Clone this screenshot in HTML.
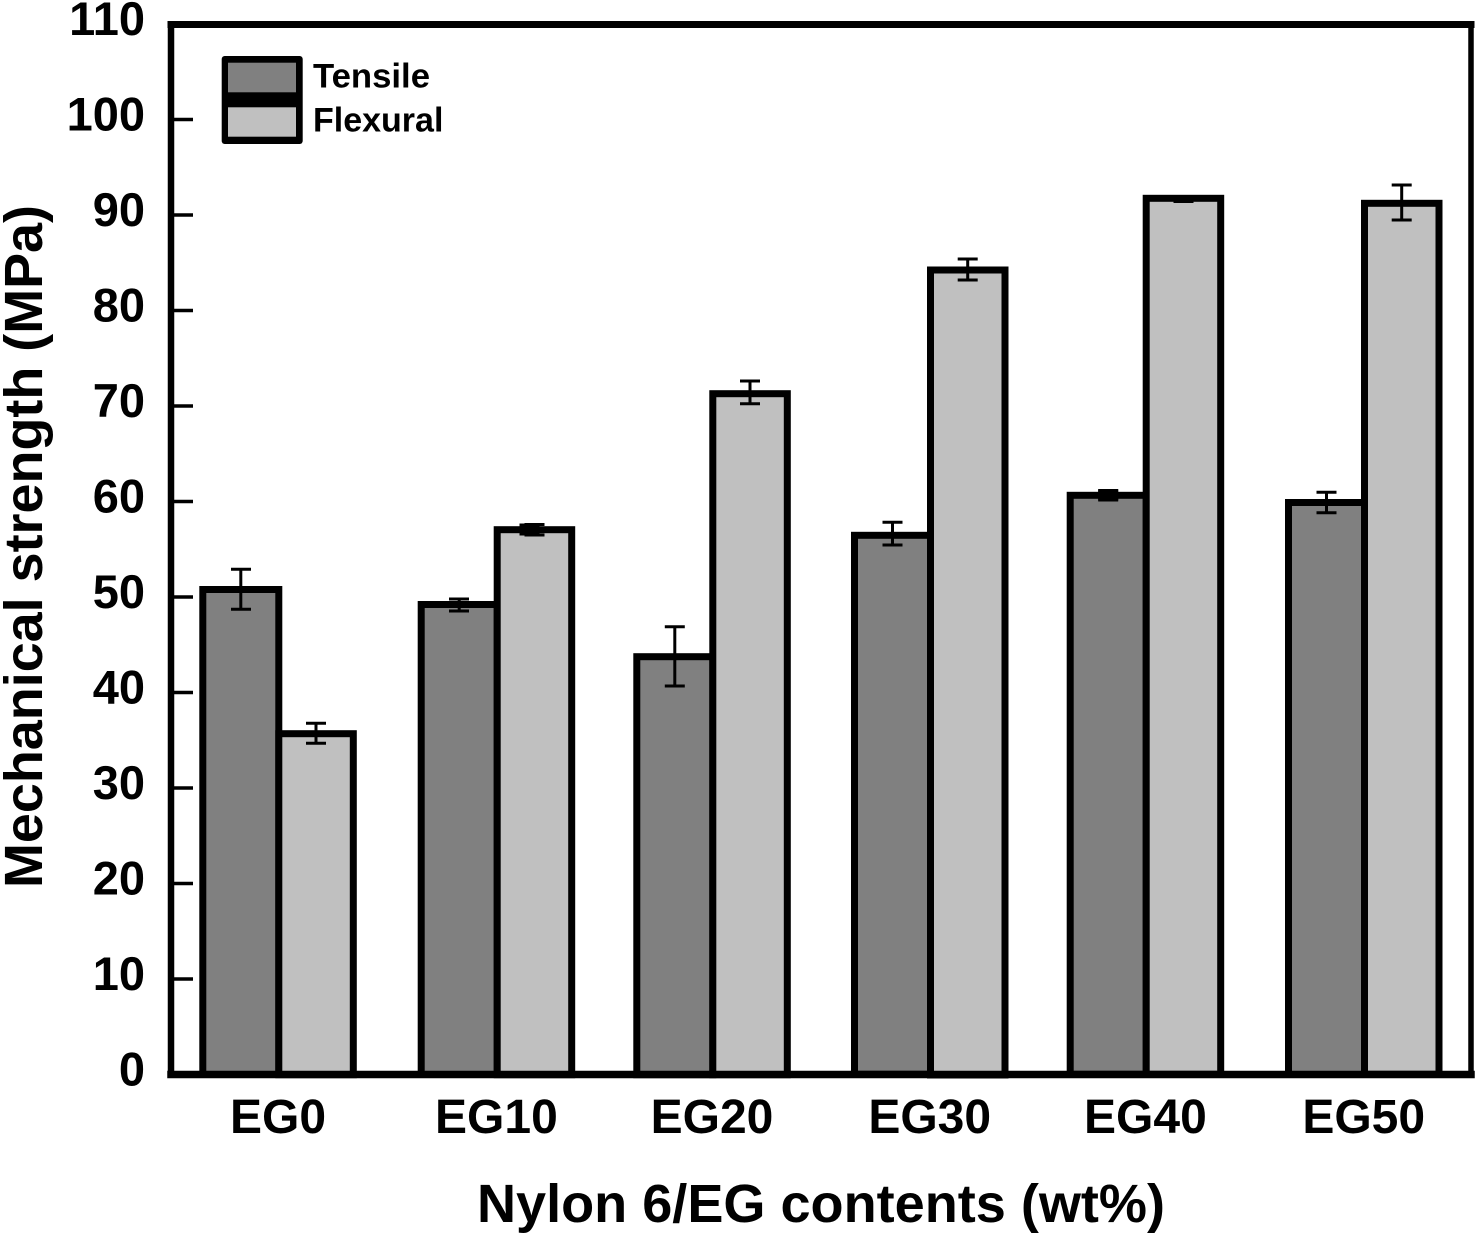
<!DOCTYPE html>
<html>
<head>
<meta charset="utf-8">
<style>
  html,body{margin:0;padding:0;background:#fff;}
  svg{display:block;}
  text{font-family:"Liberation Sans","DejaVu Sans",sans-serif;font-weight:bold;fill:#000;}
</style>
</head>
<body>
<svg width="1476" height="1233" viewBox="0 0 1476 1233" xmlns="http://www.w3.org/2000/svg">
  <rect x="0" y="0" width="1476" height="1233" fill="#fff"/>

  <!-- Bars -->
  <g stroke="#000" stroke-width="7" stroke-linejoin="miter">
    <rect x="202.8" y="589.5" width="76" height="485" fill="#808080"/>
    <rect x="278.8" y="733.7" width="74.5" height="341" fill="#c0c0c0"/>
    <rect x="421.2" y="604.5" width="76" height="470" fill="#808080"/>
    <rect x="497.2" y="529.7" width="74.5" height="545" fill="#c0c0c0"/>
    <rect x="636.8" y="656.7" width="76" height="418" fill="#808080"/>
    <rect x="712.8" y="393.7" width="74.5" height="681" fill="#c0c0c0"/>
    <rect x="854.5" y="535.3" width="76" height="539" fill="#808080"/>
    <rect x="930.5" y="270" width="74.5" height="805" fill="#c0c0c0"/>
    <rect x="1070.2" y="495.3" width="76" height="579" fill="#808080"/>
    <rect x="1146.2" y="198.3" width="74.5" height="876" fill="#c0c0c0"/>
    <rect x="1288.5" y="502.5" width="76" height="572" fill="#808080"/>
    <rect x="1364.5" y="203.3" width="74.5" height="871" fill="#c0c0c0"/>
  </g>

  <!-- Error bars -->
  <g stroke="#000" stroke-width="3" fill="none">
    <line x1="240.8" y1="569.3" x2="240.8" y2="609.3"/>
    <line x1="231" y1="569.3" x2="251" y2="569.3"/>
    <line x1="231" y1="609.3" x2="251" y2="609.3"/>
    <line x1="316" y1="723.3" x2="316" y2="743.3"/>
    <line x1="306" y1="723.3" x2="326" y2="723.3"/>
    <line x1="306" y1="743.3" x2="326" y2="743.3"/>
    <line x1="459.2" y1="598.3" x2="459.2" y2="611.7"/>
    <line x1="449" y1="599" x2="469" y2="599"/>
    <line x1="449" y1="611" x2="469" y2="611"/>
    <line x1="534.5" y1="523.3" x2="534.5" y2="536"/>
    <line x1="524.5" y1="524.5" x2="544.5" y2="524.5"/>
    <line x1="524.5" y1="535" x2="544.5" y2="535"/>
    <line x1="674.8" y1="626.7" x2="674.8" y2="686"/>
    <line x1="664.8" y1="626.7" x2="684.8" y2="626.7"/>
    <line x1="664.8" y1="686" x2="684.8" y2="686"/>
    <line x1="750" y1="381" x2="750" y2="403.7"/>
    <line x1="740" y1="381" x2="760" y2="381"/>
    <line x1="740" y1="403.7" x2="760" y2="403.7"/>
    <line x1="892.5" y1="522.3" x2="892.5" y2="545"/>
    <line x1="882.5" y1="522.3" x2="902.5" y2="522.3"/>
    <line x1="882.5" y1="545" x2="902.5" y2="545"/>
    <line x1="967.7" y1="259" x2="967.7" y2="280"/>
    <line x1="957.7" y1="259" x2="977.7" y2="259"/>
    <line x1="957.7" y1="280" x2="977.7" y2="280"/>
    <line x1="1108.2" y1="489" x2="1108.2" y2="501"/>
    <line x1="1098.2" y1="490.5" x2="1118.2" y2="490.5"/>
    <line x1="1098.2" y1="500" x2="1118.2" y2="500"/>
    <line x1="1173.5" y1="201.5" x2="1193.5" y2="201.5"/>
    <line x1="1326.5" y1="492.3" x2="1326.5" y2="512.7"/>
    <line x1="1316.5" y1="492.3" x2="1336.5" y2="492.3"/>
    <line x1="1316.5" y1="512.7" x2="1336.5" y2="512.7"/>
    <line x1="1401.7" y1="185" x2="1401.7" y2="220"/>
    <line x1="1391.7" y1="185" x2="1411.7" y2="185"/>
    <line x1="1391.7" y1="220" x2="1411.7" y2="220"/>
  </g>
  <rect x="1098.2" y="489.5" width="20" height="11" fill="#000"/>
  <rect x="519.5" y="523.5" width="20" height="12" fill="#000"/>

  <!-- Y ticks -->
  <g stroke="#000" stroke-width="3.5">
    <line x1="171" y1="979" x2="193" y2="979"/>
    <line x1="171" y1="883.5" x2="193" y2="883.5"/>
    <line x1="171" y1="788" x2="193" y2="788"/>
    <line x1="171" y1="692.5" x2="193" y2="692.5"/>
    <line x1="171" y1="597" x2="193" y2="597"/>
    <line x1="171" y1="501.5" x2="193" y2="501.5"/>
    <line x1="171" y1="406" x2="193" y2="406"/>
    <line x1="171" y1="310.5" x2="193" y2="310.5"/>
    <line x1="171" y1="215" x2="193" y2="215"/>
    <line x1="171" y1="119.5" x2="193" y2="119.5"/>
  </g>

  <!-- Frame -->
  <g stroke="#000" stroke-linecap="square">
    <line x1="171" y1="24.5" x2="1471" y2="24.5" stroke-width="7"/>
    <line x1="1471" y1="24.5" x2="1471" y2="1074.5" stroke-width="5.5"/>
    <line x1="171" y1="24.5" x2="171" y2="1074.5" stroke-width="6.5"/>
    <line x1="171" y1="1074.5" x2="1471" y2="1074.5" stroke-width="7.5"/>
  </g>

  <!-- Y tick labels -->
  <g font-size="47" text-anchor="end">
    <text x="145" y="1085.5">0</text>
    <text x="145" y="990">10</text>
    <text x="145" y="894.5">20</text>
    <text x="145" y="799">30</text>
    <text x="145" y="703.5">40</text>
    <text x="145" y="608">50</text>
    <text x="145" y="512.5">60</text>
    <text x="145" y="417">70</text>
    <text x="145" y="321.5">80</text>
    <text x="145" y="226">90</text>
    <text x="145" y="130.5">100</text>
    <text x="145" y="35">110</text>
  </g>

  <!-- X tick labels -->
  <g font-size="48" text-anchor="middle">
    <text x="278" y="1133">EG0</text>
    <text x="496.4" y="1133">EG10</text>
    <text x="712" y="1133">EG20</text>
    <text x="929.7" y="1133">EG30</text>
    <text x="1145.4" y="1133">EG40</text>
    <text x="1363.7" y="1133">EG50</text>
  </g>

  <!-- Axis titles -->
  <text x="821" y="1222" font-size="54" text-anchor="middle" textLength="688" lengthAdjust="spacingAndGlyphs">Nylon 6/EG contents (wt%)</text>
  <text transform="translate(42,546.5) rotate(-90)" x="0" y="0" font-size="54" text-anchor="middle" textLength="683" lengthAdjust="spacingAndGlyphs">Mechanical strength (MPa)</text>

  <!-- Legend -->
  <rect x="221.7" y="56" width="81" height="88" rx="3" fill="#000"/>
  <rect x="228" y="62.7" width="68" height="29.6" fill="#808080"/>
  <rect x="228" y="107.3" width="68" height="29.4" fill="#c0c0c0"/>
  <text x="313" y="87.3" font-size="34" textLength="117" lengthAdjust="spacingAndGlyphs">Tensile</text>
  <text x="313" y="131.7" font-size="34">Flexural</text>
</svg>
</body>
</html>
